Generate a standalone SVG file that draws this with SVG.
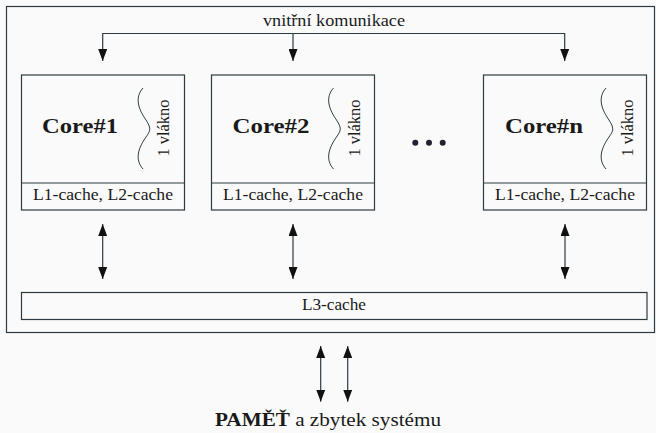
<svg xmlns="http://www.w3.org/2000/svg" width="656" height="433" viewBox="0 0 656 433">
<style>
.box{fill:none;stroke:#2d3b40;stroke-width:1.2}
.ln{fill:none;stroke:#2d3b40;stroke-width:1.2}
.t{font-family:"Liberation Serif","DejaVu Serif",serif;fill:#1a1a1a}
.core{font-size:22px;font-weight:bold}
.small{font-size:16.5px}
</style>
<defs>
<marker id="ah" viewBox="0 0 12 9" refX="12" refY="4.5" markerWidth="12" markerHeight="9" markerUnits="userSpaceOnUse" orient="auto-start-reverse">
<path d="M0,0 L12,4.5 L0,9 Z" fill="#111"/>
</marker>
<path id="brace" d="M0,0 C-9,10 -4,22 3,32 C8,40 8,42 3,49 C-4,59 -9,71 0,81" fill="none" stroke="#2d3b40" stroke-width="1"/>
</defs>
<rect width="656" height="433" fill="#fafafa"/>
<g id="outer">
<rect x="6.5" y="6.5" width="648" height="326" class="box"/>
</g>
<g id="comm-label">
<text x="334" y="26" class="t small" text-anchor="middle" textLength="142" lengthAdjust="spacingAndGlyphs">vnitřní komunikace</text>
</g>
<g id="core1">
<rect x="21.5" y="75" width="163" height="135" class="box"/>
<line x1="21.5" y1="183" x2="184.5" y2="183" class="ln"/>
<text x="80" y="133" class="t core" text-anchor="middle" textLength="76" lengthAdjust="spacingAndGlyphs">Core#1</text>
<use href="#brace" x="143" y="88"/>
<text transform="translate(169,128) rotate(-90)" class="t small" text-anchor="middle" textLength="57" lengthAdjust="spacingAndGlyphs">1 vlákno</text>
<text x="103" y="200" class="t small" text-anchor="middle" textLength="140" lengthAdjust="spacingAndGlyphs">L1-cache, L2-cache</text>
</g>
<g id="core2">
<rect x="211.5" y="75" width="163" height="135" class="box"/>
<line x1="211.5" y1="183" x2="374.5" y2="183" class="ln"/>
<text x="271" y="133" class="t core" text-anchor="middle" textLength="77" lengthAdjust="spacingAndGlyphs">Core#2</text>
<use href="#brace" x="333.5" y="88"/>
<text transform="translate(359.5,128) rotate(-90)" class="t small" text-anchor="middle" textLength="57" lengthAdjust="spacingAndGlyphs">1 vlákno</text>
<text x="293" y="200" class="t small" text-anchor="middle" textLength="140" lengthAdjust="spacingAndGlyphs">L1-cache, L2-cache</text>
</g>
<g id="dots">
<circle cx="415.3" cy="142.7" r="3" fill="#223"/>
<circle cx="429" cy="142.7" r="3" fill="#223"/>
<circle cx="442.7" cy="142.7" r="3" fill="#223"/>
</g>
<g id="coren">
<rect x="483.5" y="75" width="163" height="135" class="box"/>
<line x1="483.5" y1="183" x2="646.5" y2="183" class="ln"/>
<text x="544" y="133" class="t core" text-anchor="middle" textLength="78" lengthAdjust="spacingAndGlyphs">Core#n</text>
<use href="#brace" x="606" y="88"/>
<text transform="translate(632.5,128) rotate(-90)" class="t small" text-anchor="middle" textLength="57" lengthAdjust="spacingAndGlyphs">1 vlákno</text>
<text x="565" y="200" class="t small" text-anchor="middle" textLength="140" lengthAdjust="spacingAndGlyphs">L1-cache, L2-cache</text>
</g>
<g id="l3">
<rect x="21.5" y="292.5" width="625.5" height="27" class="box"/>
<text x="334" y="310" class="t small" text-anchor="middle" textLength="64" lengthAdjust="spacingAndGlyphs">L3-cache</text>
</g>
<g id="memory">
<text x="328" y="426" class="t" font-size="18" text-anchor="middle" textLength="226" lengthAdjust="spacingAndGlyphs"><tspan font-weight="bold">PAMĚŤ</tspan> a zbytek systému</text>
</g>
<g id="connectors">
<path d="M102.7,61 V33.5 H564.7 V61" class="ln" marker-start="url(#ah)" marker-end="url(#ah)"/>
<line x1="293" y1="33.5" x2="293" y2="61" class="ln" marker-end="url(#ah)"/>
<line x1="102.7" y1="224" x2="102.7" y2="279" class="ln" marker-start="url(#ah)" marker-end="url(#ah)"/>
<line x1="293" y1="224" x2="293" y2="279" class="ln" marker-start="url(#ah)" marker-end="url(#ah)"/>
<line x1="565" y1="224" x2="565" y2="279" class="ln" marker-start="url(#ah)" marker-end="url(#ah)"/>
<line x1="320.7" y1="346" x2="320.7" y2="401.7" class="ln" marker-start="url(#ah)" marker-end="url(#ah)"/>
<line x1="347.7" y1="346" x2="347.7" y2="401.7" class="ln" marker-start="url(#ah)" marker-end="url(#ah)"/>
</g>
</svg>
